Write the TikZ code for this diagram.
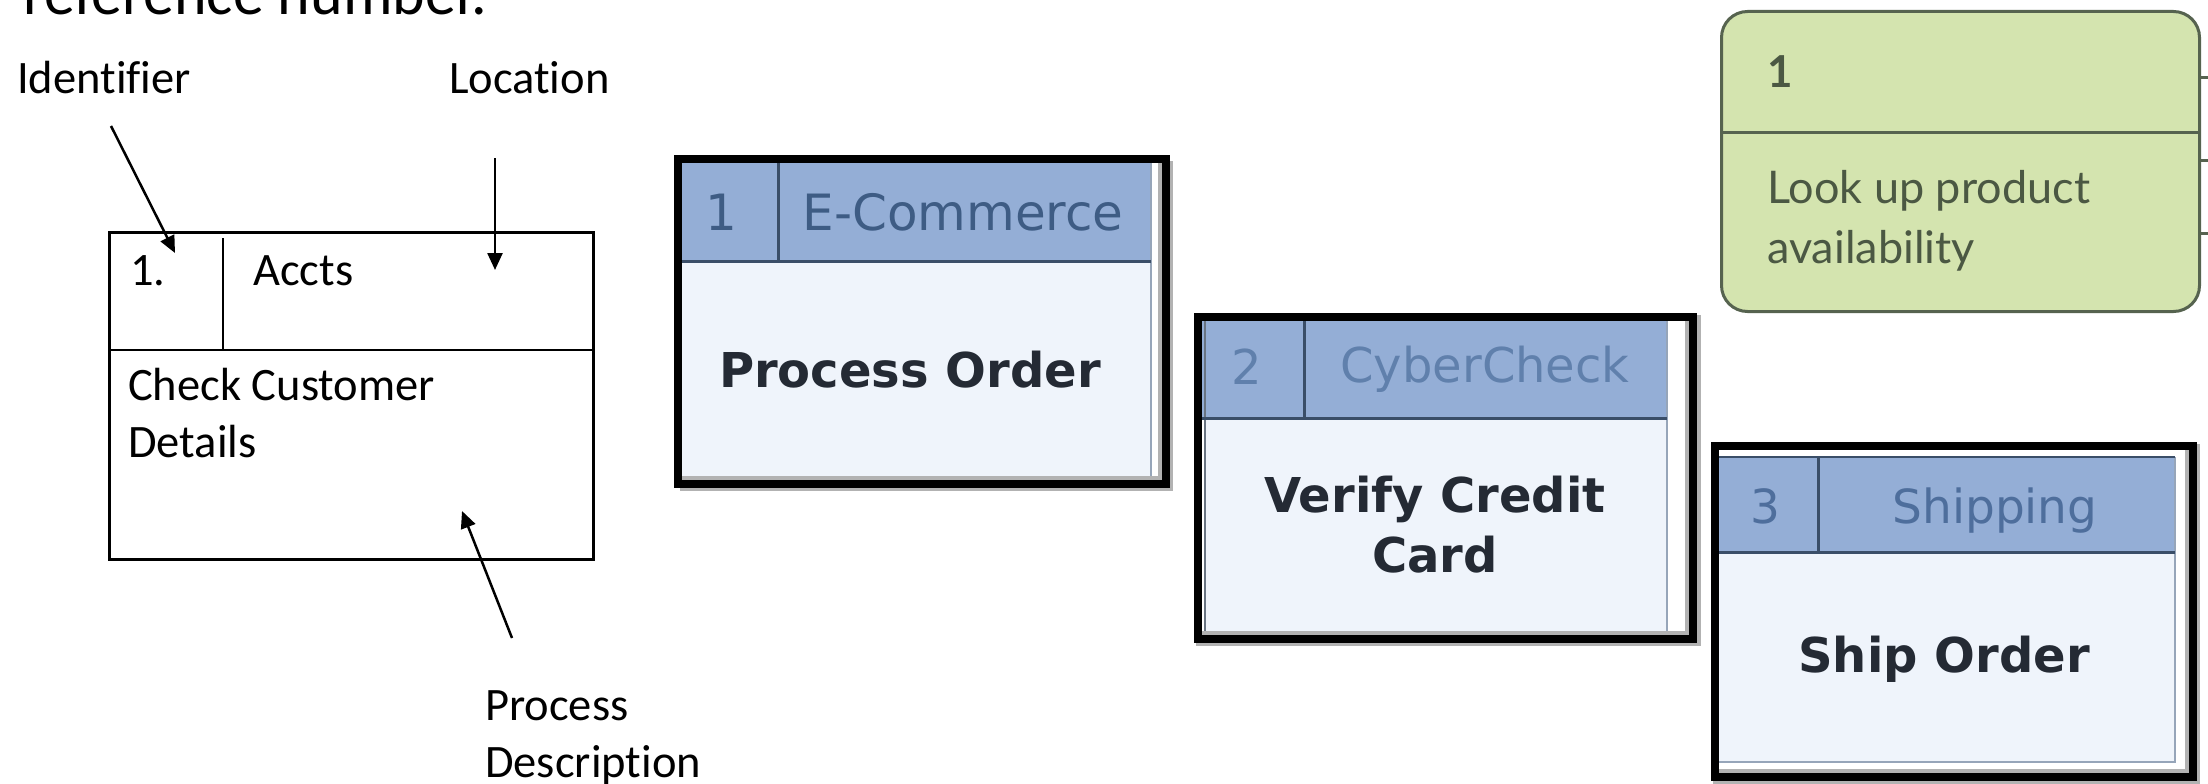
\documentclass[tikz,border=0pt]{standalone}
\usepackage{fontspec}
\setmainfont{Carlito}[Ligatures=NoCommon]
\newfontfamily\dvfont{DejaVu Sans}
\newfontfamily\latofont{Lato}
\usetikzlibrary{arrows.meta}
\definecolor{hdrblue}{RGB}{148,174,214}
\definecolor{bodyfill}{RGB}{239,244,251}
\definecolor{hdrline}{RGB}{58,78,104}
\definecolor{edgegray}{RGB}{150,165,185}
\definecolor{bodytext}{RGB}{36,42,52}
\definecolor{hdrtextA}{RGB}{62,92,132}
\definecolor{hdrtextB}{RGB}{96,128,172}
\definecolor{hdrtextC}{RGB}{78,110,156}
\definecolor{greenfill}{RGB}{212,228,175}
\definecolor{greenedge}{RGB}{86,99,79}
\definecolor{greentext}{RGB}{75,88,67}
\tikzset{
  lbl/.style={inner sep=0pt, anchor=base west, font=\fontsize{46.5}{57}\selectfont},
  callout/.style={line width=2.5pt, -{Triangle[length=17pt,width=15pt]}},
  hdrnum/.style={inner sep=0pt, anchor=base, font=\dvfont\fontsize{48}{58}\selectfont},
  bodylbl/.style={inner sep=0pt, anchor=base, align=center, text=bodytext, font=\dvfont\bfseries\fontsize{48}{60}\selectfont},
  shadow/.style={fill=black!30},
  hdrdiv/.style={draw=hdrline, line width=3pt},
}
\begin{document}
\begin{tikzpicture}[x=1pt,y=-1pt]
\useasboundingbox (0,0) rectangle (2208,784);
\fill[white] (0,0) rectangle (2208,784);

% ---------- top text (cut off at the top edge, as in the reference) ----------
\node[inner sep=0pt, anchor=base west, font=\fontsize{62}{70}\selectfont] (ref) at (23,15) {reference number.};

% ---------- left explanatory box ----------
\node[lbl] (ident) at (17,93) {Identifier};
\node[lbl] (loc) at (449,93) {Location};

\node[draw, line width=2.5pt, minimum width=484pt, minimum height=327pt, inner sep=0pt, anchor=north west] (pbox) at (108,231) {};
\draw[line width=2pt] (223,238) -- (223,350);
\draw[line width=2pt] (111,350) -- (592,350);
\node[lbl] (idnum) at (130,285) {1.};
\node[lbl] (accts) at (253,285) {Accts};
\node[lbl, align=left] (desc) at (128,457) {Check Customer\\Details};
\node[lbl, align=left] (pdesc) at (485,777) {Process\\Description};

\coordinate (idA) at (111,126);
\coordinate (idB) at (175,253);
\coordinate (locA) at (495,158);
\coordinate (locB) at (495,270);
\coordinate (pdA) at (512,638);
\coordinate (pdB) at (462,511);
\draw[callout] (idA) -- (idB);
\draw[callout] (locA) -- (locB);
\draw[callout] (pdA) -- (pdB);

% ---------- box 1: Process Order ----------
\fill[shadow] (680,161) rectangle (1173,491);
\fill[white] (678,159) rectangle (1158,476);
\fill[bodyfill] (678,159) rectangle (1151,476);
\fill[hdrblue] (678,159) rectangle (1151,261);
\draw[edgegray, line width=2pt] (1151,159) -- (1151,476);
\draw[hdrdiv] (778,159) -- (778,261);
\draw[hdrdiv] (678,261) -- (1151,261);
\node[draw=black, line width=8pt, minimum width=488pt, minimum height=325pt, inner sep=0pt, anchor=north west] (b1) at (674,155) {};
\node[hdrnum, text=hdrtextA, font=\dvfont\fontsize{50}{58}\selectfont] (b1n) at (721,230) {1};
\node[hdrnum, text=hdrtextA, font=\dvfont\fontsize{50}{58}\selectfont] (b1h) at (963,230) {E-Commerce};
\node[bodylbl] (b1t) at (910,387) {Process Order};

% ---------- box 2: Verify Credit Card ----------
\fill[shadow] (1196,315) rectangle (1701,646);
\fill[white] (1198,317) rectangle (1685,631);
\fill[bodyfill] (1205,317) rectangle (1667,631);
\fill[hdrblue] (1198,317) rectangle (1667,418);
\draw[edgegray!70!black, line width=2pt] (1205,317) -- (1205,631);
\draw[edgegray, line width=2pt] (1667,317) -- (1667,631);
\draw[hdrdiv] (1304,317) -- (1304,418);
\draw[hdrdiv] (1198,418) -- (1667,418);
\node[draw=black, line width=8pt, minimum width=495pt, minimum height=322pt, inner sep=0pt, anchor=north west] (b2) at (1194,313) {};
\node[hdrnum, text=hdrtextB] (b2n) at (1247,384) {2};
\node[hdrnum, text=hdrtextB] (b2h) at (1485,382) {CyberCheck};
\node[bodylbl] (b2t) at (1435,572) {Verify Credit\\Card};

% ---------- box 3: Ship Order ----------
\fill[shadow] (1713,444) rectangle (2200,784);
\fill[white] (1715,446) rectangle (2185,769);
\fill[bodyfill] (1718,552) rectangle (2175,762);
\fill[hdrblue] (1718,457) rectangle (2175,552);
\draw[edgegray, line width=2pt] (1718,457) -- (1718,762) -- (2175,762) -- (2175,457);
\draw[hdrdiv] (1818,457) -- (1818,552);
\draw[hdrdiv] (1718,552) -- (2175,552);
\draw[hdrline, line width=2pt] (1718,457) -- (2175,457);
\node[draw=black, line width=8pt, minimum width=478pt, minimum height=331pt, inner sep=0pt, anchor=north west] (b3) at (1711,442) {};
\node[hdrnum, text=hdrtextC, font=\dvfont\fontsize{47}{58}\selectfont] (b3n) at (1765,523) {3};
\node[hdrnum, text=hdrtextC, font=\dvfont\fontsize{47}{58}\selectfont] (b3h) at (1995,523) {Shipping};
\node[bodylbl] (b3t) at (1944,672) {Ship Order};

% ---------- green box ----------
\node[draw=greenedge, fill=greenfill, line width=3pt, rounded corners=26pt, minimum width=478pt, minimum height=300pt, inner sep=0pt, anchor=north west] (gbox) at (1720,10) {};
\draw[greenedge, line width=3pt] (1720,132) -- (2198,132);
\coordinate (gt1) at (2208,77);
\coordinate (gt2) at (2208,160);
\coordinate (gt3) at (2208,233);
\draw[greenedge, line width=3pt] (gbox.east |- gt1) -- (gt1);
\draw[greenedge, line width=3pt] (gbox.east |- gt2) -- (gt2);
\draw[greenedge, line width=3pt] (gbox.east |- gt3) -- (gt3);
\node[inner sep=0pt, anchor=base west, text=greentext, font=\latofont\bfseries\fontsize{44}{60}\selectfont] (gnum) at (1767,87) {1};
\node[inner sep=0pt, anchor=base west, align=left, text=greentext, font=\latofont\fontsize{45}{60}\selectfont] (gtxt) at (1767,263) {Look up product\\availability};
\end{tikzpicture}
\end{document}
